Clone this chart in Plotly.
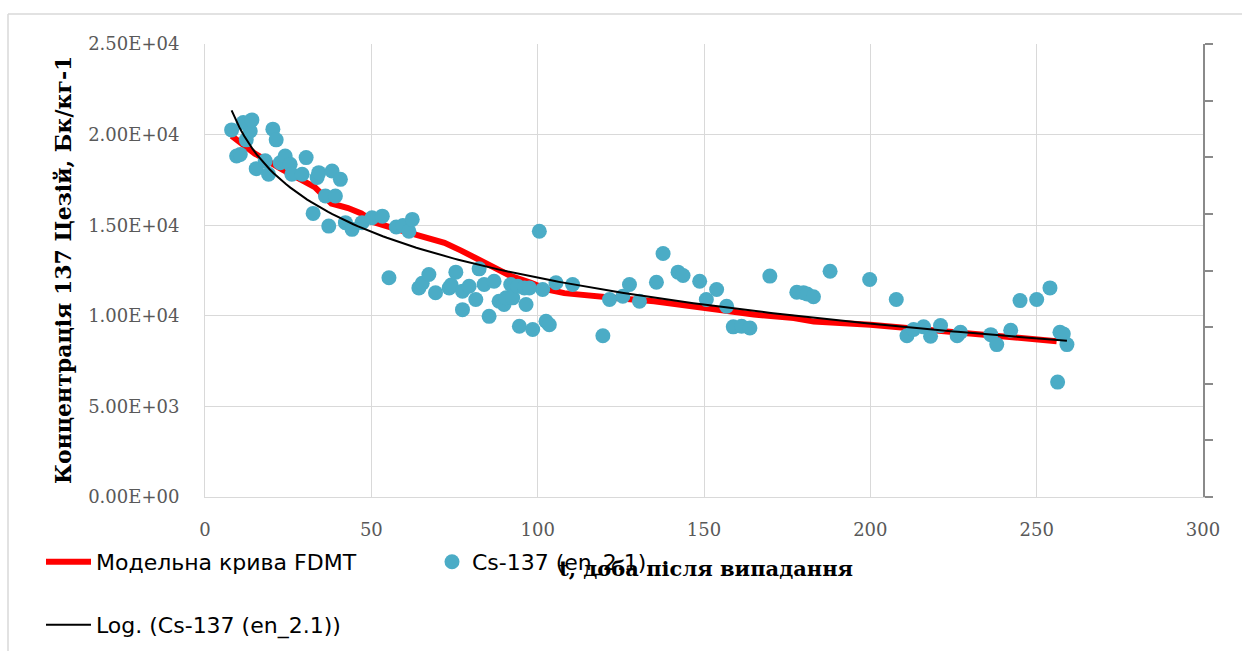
import numpy as np
import plotly.graph_objects as go

# ---- data ----
cs_x = [8.0, 9.5, 10.6, 11.5, 12.4, 13.6, 14.1, 15.4, 18.1, 19.1, 20.4, 21.4, 22.6, 24.1,
        25.6, 26.1, 29.2, 30.4, 32.5, 33.7, 34.2, 36.2, 37.2, 38.2, 39.2, 40.7, 42.2, 44.2,
        47.2, 50.2, 53.3, 55.3, 57.5, 59.5, 61.3, 62.3, 64.3, 65.3, 67.3, 69.3, 73.4, 74.0,
        75.4, 77.4, 77.4, 79.4, 81.4, 82.4, 83.9, 85.4, 86.9, 88.4, 89.9, 90.5, 91.9, 92.5,
        94.0, 94.5, 96.0, 96.5, 97.5, 98.5, 100.5, 101.5, 102.5, 103.5, 105.5, 110.5, 119.6,
        121.6, 125.6, 127.6, 130.6, 135.7, 137.7, 142.2, 143.7, 148.7, 150.7, 153.8, 156.8,
        158.8, 161.3, 163.8, 169.8, 177.9, 179.9, 181.0, 182.9, 187.9, 199.8, 207.8, 211.0,
        213.0, 216.0, 218.1, 221.1, 226.1, 227.1, 236.2, 238.0, 242.2, 245.0, 250.0, 254.0,
        256.3, 257.0, 258.0, 259.1]
cs_y = [20260, 18820, 18900, 20670, 19710, 20200, 20810, 18120, 18550, 17810, 20300, 19710,
        18450, 18820, 18360, 17810, 17810, 18730, 15650, 17630, 17900, 16610, 14950, 17990,
        16610, 17530, 15140, 14770, 15140, 15410, 15500, 12100, 14900, 14980, 14670, 15320,
        11540, 11800, 12280, 11270, 11540, 11700, 12410, 11360, 10340, 11630, 10900, 12590,
        11730, 9970, 11910, 10800, 10620, 11000, 11730, 10990, 11630, 9420, 11540, 10620,
        11540, 9240, 14670, 11450, 9700, 9510, 11820, 11730, 8900, 10900, 11080, 11730, 10800,
        11850, 13440, 12410, 12220, 11910, 10900, 11450, 10530, 9390, 9420, 9330, 12190,
        11300, 11270, 11200, 11050, 12460, 12000, 10900, 8900, 9240, 9390, 8870, 9460, 8900,
        9090, 8960, 8410, 9200, 10840, 10900, 11540, 6340, 9090, 9000, 8410]

model_x = [8, 15, 23, 33, 38, 43, 47, 51, 58, 66, 72, 77, 81, 86, 92, 98, 103, 108, 115,
           125, 135, 150, 165, 177, 183, 200, 225, 240, 256]
model_y = [19930, 18950, 18100, 17100, 16200, 15950, 15650, 15150, 14750, 14300, 14030,
           13600, 13200, 12740, 12190, 11820, 11450, 11250, 11100, 10950, 10800, 10450,
           10070, 9880, 9680, 9510, 9100, 8850, 8600]

x_ticks = [0, 50, 100, 150, 200, 250, 300]
y_ticks = [0, 5000, 10000, 15000, 20000, 25000]
y_ticktext = ["0.00E+00", "5.00E+03", "1.00E+04", "1.50E+04", "2.00E+04", "2.50E+04"]

# logarithmic trendline (least squares on ln x, as the spreadsheet does)
b, a = np.polyfit(np.log(cs_x), cs_y, 1)
trend_x = np.linspace(min(cs_x), max(cs_x), 200)
trend_y = a + b * np.log(trend_x)

SERIF = "DejaVu Serif"
SANS = "DejaVu Sans"
GRID = "#d9d9d9"

fig = go.Figure()
fig.add_trace(go.Scatter(x=model_x, y=model_y, mode="lines", name="Модельна крива FDMT",
                         line=dict(color="#ff0000", width=6), legend="legend"))
fig.add_trace(go.Scatter(x=cs_x, y=cs_y, mode="markers", name="Cs-137 (en_2.1)",
                         marker=dict(color="#4bacc6", size=15), legend="legend2"))
fig.add_trace(go.Scatter(x=trend_x, y=trend_y, mode="lines", name="Log. (Cs-137 (en_2.1))",
                         line=dict(color="#000000", width=2), legend="legend3"))

W, H = 1242, 651
L, R, T, B = 205, 39, 44, 154
pw, ph = W - L - R, H - T - B


def px(p):
    return (p - L) / pw


def py(p):
    return (H - B - p) / ph


leg_font = dict(family=SANS, size=22, color="#000000")
fig.update_layout(
    width=W, height=H,
    margin=dict(l=L, r=R, t=T, b=B, autoexpand=False),
    paper_bgcolor="white", plot_bgcolor="white",
    xaxis=dict(range=[0, 300], tickvals=x_ticks, showgrid=True, gridcolor=GRID, gridwidth=1,
               showline=True, linecolor=GRID, linewidth=1, zeroline=False, ticks="",
               automargin=False,
               tickfont=dict(family=SERIF, size=18, color="#595959"), ticklabelstandoff=16),
    yaxis=dict(range=[0, 25000], tickvals=y_ticks, ticktext=y_ticktext, showgrid=True,
               gridcolor=GRID, gridwidth=1, showline=True, linecolor=GRID, linewidth=1,
               automargin=False,
               zeroline=False, ticks="", tickfont=dict(family=SERIF, size=18, color="#595959"),
               ticklabelstandoff=21),
    yaxis2=dict(overlaying="y", side="right", range=[0, 8], dtick=1, tick0=0, ticks="outside",
                ticklen=8, tickwidth=2, tickcolor="#8a8a8a", showline=True, linecolor="#8a8a8a",
                linewidth=2, showticklabels=False, showgrid=False, zeroline=False,
                automargin=False),
    legend=dict(x=px(41), y=py(562), xanchor="left", yanchor="middle", font=leg_font,
                bgcolor="rgba(0,0,0,0)", itemwidth=45),
    legend2=dict(x=px(432), y=py(562), xanchor="left", yanchor="middle", font=leg_font,
                 bgcolor="rgba(0,0,0,0)"),
    legend3=dict(x=px(41), y=py(625), xanchor="left", yanchor="middle", font=leg_font,
                 bgcolor="rgba(0,0,0,0)", itemwidth=45),
    showlegend=True,
    annotations=[
        dict(text="<b>t, доба після випадання</b>", xref="paper", yref="paper",
             x=px(706), y=py(568), xanchor="center", yanchor="middle", showarrow=False,
             font=dict(family=SERIF, size=21, color="#000000")),
        dict(text="<b>Концентрація 137 Цезій, Бк/кг-1</b>", xref="paper", yref="paper",
             x=px(63), y=py(270), xanchor="center", yanchor="middle", showarrow=False,
             textangle=-90, font=dict(family=SERIF, size=22, color="#000000")),
    ],
    shapes=[
        dict(type="line", xref="paper", yref="paper", x0=px(8), x1=px(1260), y0=py(14),
             y1=py(14), line=dict(color=GRID, width=1.5)),
        dict(type="line", xref="paper", yref="paper", x0=px(8), x1=px(8), y0=py(14),
             y1=py(670), line=dict(color=GRID, width=1.5)),
    ],
)
# empty trace so the secondary (right) axis is drawn
fig.add_trace(go.Scatter(x=[], y=[], yaxis="y2", showlegend=False, hoverinfo="skip"))

fig.write_html("out.html")
